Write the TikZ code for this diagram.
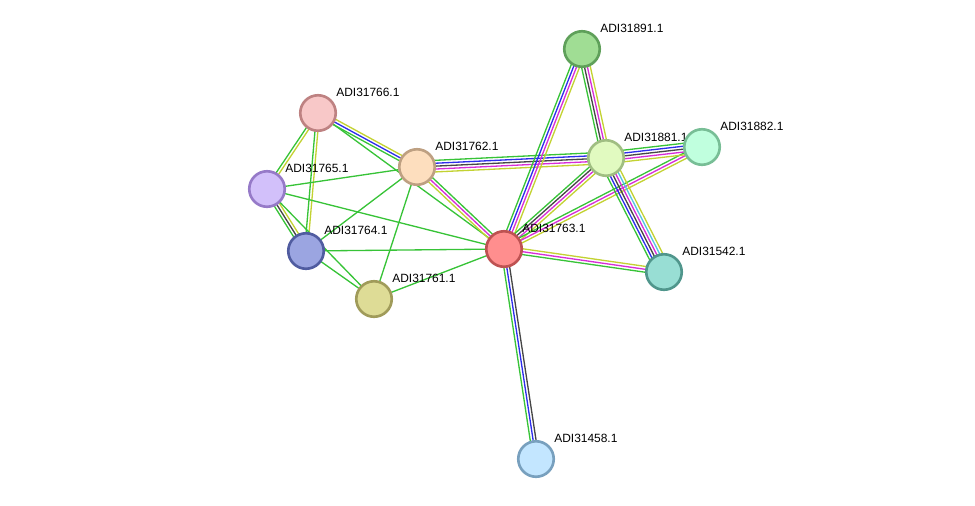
\documentclass[tikz,border=0pt]{standalone}
\usepackage{fontspec}
\setmainfont{Liberation Sans}
\usetikzlibrary{calc,backgrounds}
% evidence colours
\definecolor{lkgreen}{RGB}{55,195,55}
\definecolor{lkblue}{RGB}{45,45,235}
\definecolor{lkblack}{RGB}{70,70,70}
\definecolor{lkpink}{RGB}{215,45,215}
\definecolor{lkcyan}{RGB}{85,195,225}
\definecolor{lkyellow}{RGB}{195,210,50}
% protein colours: fill / border
\definecolor{f891}{RGB}{160,221,148}\definecolor{b891}{RGB}{95,160,90}
\definecolor{f766}{RGB}{248,200,200}\definecolor{b766}{RGB}{190,130,130}
\definecolor{f762}{RGB}{253,222,190}\definecolor{b762}{RGB}{190,160,130}
\definecolor{f765}{RGB}{210,192,250}\definecolor{b765}{RGB}{150,122,200}
\definecolor{f764}{RGB}{155,165,225}\definecolor{b764}{RGB}{80,92,160}
\definecolor{f761}{RGB}{222,220,150}\definecolor{b761}{RGB}{160,155,90}
\definecolor{f763}{RGB}{255,142,142}\definecolor{b763}{RGB}{190,82,82}
\definecolor{f881}{RGB}{225,250,192}\definecolor{b881}{RGB}{160,190,130}
\definecolor{f882}{RGB}{192,255,222}\definecolor{b882}{RGB}{120,190,150}
\definecolor{f542}{RGB}{152,222,212}\definecolor{b542}{RGB}{80,150,140}
\definecolor{f458}{RGB}{195,230,255}\definecolor{b458}{RGB}{120,160,190}
\tikzset{
  prot/.style={circle,fill=f#1,draw=b#1,line width=1.5pt,minimum size=0.71cm,inner sep=0pt},
  lbl/.style={anchor=west,inner sep=0pt,font=\fontsize{6.8}{8}\selectfont},
  lk/.style={line width=0.75pt},
}
% one protein: id, x, y, text
\newcommand{\prot}[4]{%
  \node[prot=#1] (n#1) at (#2,#3) {};
  \node[lbl] (n#1l) at ($(n#1)+(18,-21)$) {#4};}
% bundle of evidence lines between two proteins
\newcommand{\lnk}[3]{%
  \foreach \c [count=\n] in {#3} {\xdef\nlines{\n}}
  \foreach \c [count=\i] in {#3} {
    \pgfmathsetmacro\off{((\nlines+1)/2-\i)*1.65}
    \draw[lk,\c] ($(n#1.center)!\off pt!90:(n#2.center)$) -- ($(n#2.center)!\off pt!-90:(n#1.center)$);
  }}

\begin{document}
\begin{tikzpicture}[x=0.02cm,y=-0.02cm]
\useasboundingbox (0,0) rectangle (975,505);
% proteins
\prot{891}{582}{49}{ADI31891.1}
\prot{766}{318}{113}{ADI31766.1}
\prot{762}{417}{167}{ADI31762.1}
\prot{765}{267}{189}{ADI31765.1}
\prot{764}{306}{251}{ADI31764.1}
\prot{761}{374}{299}{ADI31761.1}
\prot{763}{504}{249}{ADI31763.1}
\prot{881}{606}{158}{ADI31881.1}
\prot{882}{702}{147}{ADI31882.1}
\prot{542}{664}{272}{ADI31542.1}
\prot{458}{536}{459}{ADI31458.1}
% links
\begin{scope}[on background layer]
  \lnk{765}{766}{lkgreen,lkyellow}
  \lnk{764}{766}{lkgreen,lkyellow}
  \lnk{762}{766}{lkgreen,lkblue,lkyellow}
  \lnk{766}{763}{lkgreen}
  \lnk{765}{762}{lkgreen}
  \lnk{765}{763}{lkgreen}
  \lnk{764}{765}{lkgreen,lkblack,lkyellow}
  \lnk{765}{761}{lkgreen}
  \lnk{762}{764}{lkgreen}
  \lnk{762}{761}{lkgreen}
  \lnk{762}{763}{lkgreen,lkpink,lkyellow}
  \lnk{762}{881}{lkgreen,lkblue,lkblack,lkpink,lkyellow}
  \lnk{764}{763}{lkgreen}
  \lnk{764}{761}{lkgreen}
  \lnk{761}{763}{lkgreen}
  \lnk{763}{891}{lkgreen,lkblue,lkpink,lkyellow}
  \lnk{763}{881}{lkgreen,lkblack,lkpink,lkyellow}
  \lnk{763}{882}{lkgreen,lkpink,lkyellow}
  \lnk{542}{763}{lkgreen,lkpink,lkyellow}
  \lnk{458}{763}{lkgreen,lkblue,lkblack}
  \lnk{881}{891}{lkgreen,lkblack,lkpink,lkyellow}
  \lnk{881}{882}{lkgreen,lkblue,lkblack,lkpink,lkyellow}
  \lnk{542}{881}{lkgreen,lkblue,lkblack,lkpink,lkcyan,lkyellow}
\end{scope}
\end{tikzpicture}
\end{document}
